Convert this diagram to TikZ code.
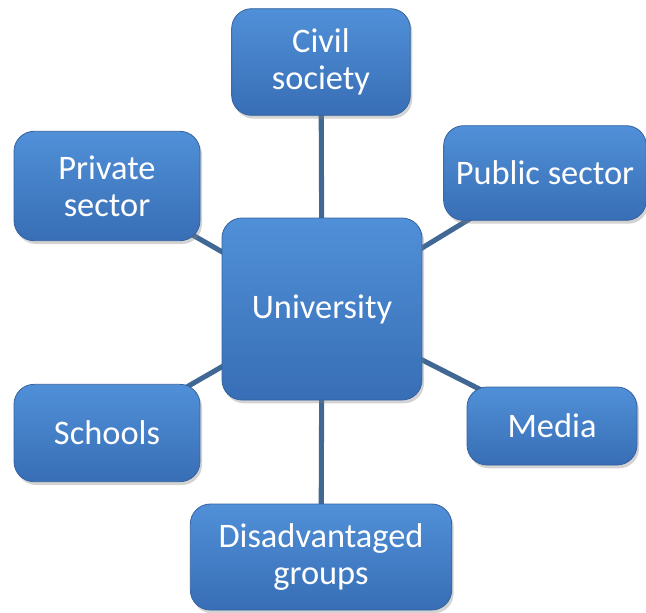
\documentclass[tikz,border=0pt]{standalone}
\usepackage{fontspec}
\setmainfont{Carlito}
\usetikzlibrary{shadows,backgrounds}

\definecolor{boxtop}{HTML}{5090D8}
\definecolor{boxmid}{HTML}{417EC9}
\definecolor{boxbot}{HTML}{386EB5}
\definecolor{boxedge}{HTML}{34629E}
\definecolor{linkcol}{HTML}{416894}

\tikzset{
  unit/.style={rounded corners=15pt, draw=boxedge, line width=0.6pt,
    top color=boxtop, middle color=boxmid, bottom color=boxbot,
    drop shadow={opacity=0.35, shadow xshift=1.5pt, shadow yshift=-2.5pt},
    text=white, align=center, inner sep=2pt,
    font=\fontsize{25.8}{28}\selectfont},
  link/.style={draw=linkcol, line width=3.8pt}
}

\begin{document}
\begin{tikzpicture}[x=0.75pt, y=-0.75pt, line join=round]

\useasboundingbox (0,0) rectangle (646,612);

\node[unit, minimum width=150pt, minimum height=136.5pt] (uni) at (322,309) {University};

\node[unit, minimum width=134pt, minimum height=80pt] (civil) at (321,62) {Civil\\society};
\node[unit, minimum width=139.5pt, minimum height=82pt] (private) at (107,186) {Private\\sector};
\node[unit, minimum width=152pt, minimum height=71pt] (public) at (545,173) {Public sector};
\node[unit, minimum width=139.5pt, minimum height=73pt] (schools) at (107,433) {Schools};
\node[unit, minimum width=127.5pt, minimum height=58.5pt] (media) at (552,426) {Media};
\node[unit, minimum width=196pt, minimum height=79.5pt] (groups) at (321,557) {Disadvantaged\\groups};

% spokes behind the boxes
\begin{scope}[on background layer]
\draw[link] (uni.center) -- (civil.center);
\draw[link] (uni.center) -- (private.center);
\draw[link] (uni.center) -- (public.center);
\draw[link] (uni.center) -- (schools.center);
\draw[link] (uni.center) -- (media.center);
\draw[link] (uni.center) -- (groups.center);
\end{scope}

\end{tikzpicture}
\end{document}
